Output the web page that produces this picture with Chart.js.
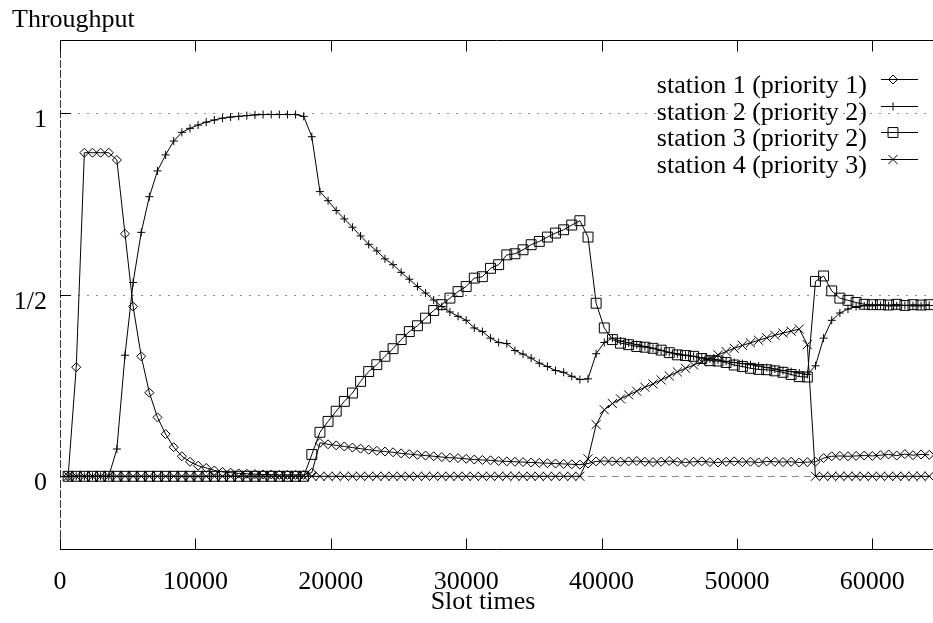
<!DOCTYPE html>
<html>
<head>
<meta charset="utf-8">
<title>Throughput</title>
<script src="https://cdn.jsdelivr.net/npm/chart.js@4.4.1/dist/chart.umd.min.js"></script>
<style>
  html, body { margin: 0; padding: 0; background: #fff; overflow: hidden; }
  canvas { display: block; }
</style>
</head>
<body>
<canvas id="grafica" width="933" height="623"></canvas>
<script>
// sample times (x axis, slot times)
const slotTimes = [
  600, 1200, 1800, 2400, 3000, 3600, 4200, 4800, 5400, 6000,
  6600, 7200, 7800, 8400, 9000, 9600, 10200, 10800, 11400, 12000,
  12600, 13200, 13800, 14400, 15000, 15600, 16200, 16800, 17400, 18000,
  18600, 19200, 19800, 20400, 21000, 21600, 22200, 22800, 23400, 24000,
  24600, 25200, 25800, 26400, 27000, 27600, 28200, 28800, 29400, 30000,
  30600, 31200, 31800, 32400, 33000, 33600, 34200, 34800, 35400, 36000,
  36600, 37200, 37800, 38400, 39000, 39600, 40200, 40800, 41400, 42000,
  42600, 43200, 43800, 44400, 45000, 45600, 46200, 46800, 47400, 48000,
  48600, 49200, 49800, 50400, 51000, 51600, 52200, 52800, 53400, 54000,
  54600, 55200, 55800, 56400, 57000, 57600, 58200, 58800, 59400, 60000,
  60600, 61200, 61800, 62400, 63000, 63600, 64200
];

const station1 = [
  0, 0.3, 0.89, 0.89, 0.89, 0.89, 0.87, 0.667, 0.467, 0.33,
  0.23, 0.162, 0.116, 0.08, 0.055, 0.04, 0.029, 0.023, 0.016, 0.012,
  0.01, 0.008, 0.007, 0.006, 0.005, 0.005, 0.004, 0.004, 0.004, 0.004,
  0.01, 0.092, 0.088, 0.085, 0.082, 0.079, 0.076, 0.073, 0.07, 0.068,
  0.066, 0.063, 0.061, 0.059, 0.057, 0.055, 0.053, 0.051, 0.05, 0.048,
  0.046, 0.045, 0.044, 0.042, 0.041, 0.04, 0.039, 0.038, 0.037, 0.036,
  0.035, 0.034, 0.033, 0.032, 0.035, 0.041, 0.042, 0.041, 0.04, 0.041,
  0.042, 0.04, 0.039, 0.04, 0.042, 0.04, 0.038, 0.04, 0.041, 0.039,
  0.038, 0.04, 0.041, 0.039, 0.04, 0.038, 0.041, 0.04, 0.039, 0.04,
  0.038, 0.039, 0.04, 0.05, 0.055, 0.056, 0.055, 0.056, 0.057, 0.056,
  0.058, 0.06, 0.057, 0.061, 0.058, 0.06, 0.059
];

const station2 = [
  0, 0, 0, 0, 0, 0, 0.075, 0.333, 0.533, 0.671,
  0.769, 0.84, 0.884, 0.922, 0.946, 0.957, 0.966, 0.974, 0.98, 0.985,
  0.988, 0.99, 0.992, 0.994, 0.995, 0.995, 0.995, 0.995, 0.995, 0.99,
  0.934, 0.783, 0.758, 0.731, 0.708, 0.685, 0.661, 0.638, 0.62, 0.598,
  0.582, 0.561, 0.542, 0.522, 0.504, 0.485, 0.467, 0.452, 0.44, 0.429,
  0.408, 0.398, 0.38, 0.368, 0.365, 0.346, 0.336, 0.325, 0.311, 0.302,
  0.291, 0.286, 0.275, 0.266, 0.268, 0.337, 0.368, 0.38, 0.372, 0.367,
  0.362, 0.357, 0.352, 0.346, 0.341, 0.337, 0.333, 0.33, 0.326, 0.323,
  0.32, 0.316, 0.313, 0.31, 0.307, 0.303, 0.299, 0.295, 0.291, 0.288,
  0.284, 0.28, 0.304, 0.38, 0.429, 0.449, 0.46, 0.467, 0.469, 0.469,
  0.47, 0.469, 0.469, 0.47, 0.469, 0.469, 0.47
];

const station3 = [
  0, 0, 0, 0, 0, 0, 0, 0, 0, 0,
  0, 0, 0, 0, 0, 0, 0, 0, 0, 0,
  0, 0, 0, 0, 0, 0, 0, 0, 0, 0,
  0.06, 0.121, 0.151, 0.179, 0.206, 0.229, 0.261, 0.288, 0.307, 0.33,
  0.351, 0.376, 0.398, 0.414, 0.435, 0.456, 0.472, 0.49, 0.508, 0.522,
  0.545, 0.549, 0.572, 0.582, 0.609, 0.612, 0.623, 0.637, 0.646, 0.658,
  0.669, 0.678, 0.691, 0.703, 0.658, 0.476, 0.408, 0.376, 0.366, 0.362,
  0.357, 0.355, 0.352, 0.347, 0.34, 0.334, 0.332, 0.33, 0.324, 0.318,
  0.317, 0.313, 0.306, 0.302, 0.297, 0.294, 0.293, 0.29, 0.286, 0.28,
  0.274, 0.273, 0.536, 0.551, 0.51, 0.49, 0.484, 0.478, 0.473, 0.472,
  0.472, 0.471, 0.473, 0.47, 0.472, 0.471, 0.472
];

const station4 = [
  0, 0, 0, 0, 0, 0, 0, 0, 0, 0,
  0, 0, 0, 0, 0, 0, 0, 0, 0, 0,
  0, 0, 0, 0, 0, 0, 0, 0, 0, 0,
  0, 0, 0, 0, 0, 0, 0, 0, 0, 0,
  0, 0, 0, 0, 0, 0, 0, 0, 0, 0,
  0, 0, 0, 0, 0, 0, 0, 0, 0, 0,
  0, 0, 0, 0, 0.048, 0.142, 0.183, 0.2, 0.213, 0.224,
  0.234, 0.245, 0.254, 0.265, 0.276, 0.287, 0.297, 0.306, 0.315, 0.324,
  0.334, 0.343, 0.352, 0.36, 0.367, 0.374, 0.381, 0.388, 0.394, 0.399,
  0.405, 0.362, 0, 0, 0, 0, 0, 0, 0, 0,
  0, 0, 0, 0, 0, 0, 0
];

const seriesLabels = ['station 1 (priority 1)', 'station 2 (priority 2)', 'station 3 (priority 2)', 'station 4 (priority 3)'];
const xTickValues = [0, 10000, 20000, 30000, 40000, 50000, 60000];
const yTickValues = [0, 0.5, 1];
const yTickLabels = ['0', '1/2', '1'];
const yGridValues = [0.5, 1];

const FONT = '26px "Liberation Serif", "Times New Roman", serif';

// gnuplot style point markers
const markers = [
  { pointStyle: 'rectRot', radius: 4.5 },
  { pointStyle: 'cross', radius: 4 },
  { pointStyle: 'rect', radius: 7 },
  { pointStyle: 'crossRot', radius: 6.4 }
];

const allSeries = [station1, station2, station3, station4];

const datasets = allSeries.map((serie, i) => ({
  label: seriesLabels[i],
  data: serie.map((v, k) => ({ x: slotTimes[k], y: v })),
  borderColor: '#000',
  borderWidth: 1,
  pointStyle: markers[i].pointStyle,
  pointRadius: markers[i].radius,
  pointBorderColor: '#000',
  pointBackgroundColor: 'rgba(0,0,0,0)',
  pointBorderWidth: 1,
  tension: 0,
  fill: false
}));

function linea(ctx, x1, y1, x2, y2) {
  ctx.beginPath();
  ctx.moveTo(x1, y1);
  ctx.lineTo(x2, y2);
  ctx.stroke();
}

const marcoPlugin = {
  id: 'marco',
  beforeDatasetsDraw(chart) {
    const { ctx, chartArea: a, scales: { y } } = chart;
    ctx.save();
    ctx.lineWidth = 1;

    // dotted grid at 1/2 and 1
    ctx.strokeStyle = '#8a8a8a';
    ctx.setLineDash([2, 7]);
    yGridValues.forEach(v => {
      const py = Math.round(y.getPixelForValue(v)) + 0.5;
      linea(ctx, a.left, py, a.right, py);
    });

    // dashed zero axis
    ctx.strokeStyle = '#8a8a8a';
    ctx.setLineDash([7, 5]);
    const y0 = Math.round(y.getPixelForValue(0)) + 0.5;
    linea(ctx, a.left, y0, a.right, y0);
    ctx.restore();
  },
  afterDatasetsDraw(chart) {
    const { ctx, chartArea: a, scales: { x, y } } = chart;
    ctx.save();
    ctx.lineWidth = 1;
    ctx.strokeStyle = '#000';
    ctx.setLineDash([]);

    const top = Math.round(a.top) + 0.5;
    const bottom = Math.round(a.bottom) + 0.5;
    const left = Math.round(a.left) + 0.5;
    linea(ctx, a.left, top, a.right, top);
    linea(ctx, a.left, bottom, a.right, bottom);

    // left border (drawn dashed like the zero axis)
    ctx.strokeStyle = '#333';
    ctx.setLineDash([8, 2]);
    linea(ctx, left, a.top, left, a.bottom);
    ctx.setLineDash([]);
    ctx.strokeStyle = '#000';

    // ticks, inside, mirrored on top
    xTickValues.forEach(v => {
      const px = Math.round(x.getPixelForValue(v)) + 0.5;
      linea(ctx, px, bottom, px, bottom - 11);
      linea(ctx, px, top, px, top + 11);
    });
    yTickValues.forEach(v => {
      const py = Math.round(y.getPixelForValue(v)) + 0.5;
      linea(ctx, a.left, py, a.left + 11, py);
    });

    ctx.fillStyle = '#000';
    ctx.font = FONT;
    ctx.textBaseline = 'alphabetic';

    ctx.textAlign = 'center';
    xTickValues.forEach(v => {
      ctx.fillText(String(v), x.getPixelForValue(v), 589);
    });

    ctx.textAlign = 'right';
    yTickValues.forEach((v, i) => {
      ctx.fillText(yTickLabels[i], 47, y.getPixelForValue(v) + 14);
    });

    ctx.textAlign = 'left';
    ctx.fillText('Throughput', 12, 27);
    ctx.textAlign = 'center';
    ctx.fillText('Slot times', 483, 609);

    // key, text on the left, sample on the right
    chart.data.datasets.forEach((ds, i) => {
      const base = 93 + i * 26.7;
      ctx.textAlign = 'right';
      ctx.fillStyle = '#000';
      ctx.fillText(ds.label, 867, base);
      const ly = Math.round(base - 14) + 0.5;
      ctx.strokeStyle = '#000';
      linea(ctx, 881, ly, 918, ly);
      ctx.fillStyle = 'rgba(0,0,0,0)';
      Chart.helpers.drawPoint(ctx, {
        pointStyle: ds.pointStyle,
        radius: ds.pointRadius,
        rotation: 0,
        borderWidth: 1
      }, 893, ly);
    });
    ctx.restore();
  }
};

document.addEventListener('DOMContentLoaded', () => {
  const ctx = document.getElementById('grafica').getContext('2d');
  new Chart(ctx, {
    type: 'line',
    data: { datasets: datasets },
    options: {
      responsive: false,
      animation: false,
      events: [],
      layout: { autoPadding: false, padding: { left: 60, top: 40, right: 0, bottom: 74 } },
      plugins: {
        legend: { display: false },
        tooltip: { enabled: false }
      },
      scales: {
        x: { type: 'linear', min: 0, max: 64480, display: false },
        y: { type: 'linear', min: -0.2, max: 1.2, display: false }
      }
    },
    plugins: [marcoPlugin]
  });
});
</script>
</body>
</html>
